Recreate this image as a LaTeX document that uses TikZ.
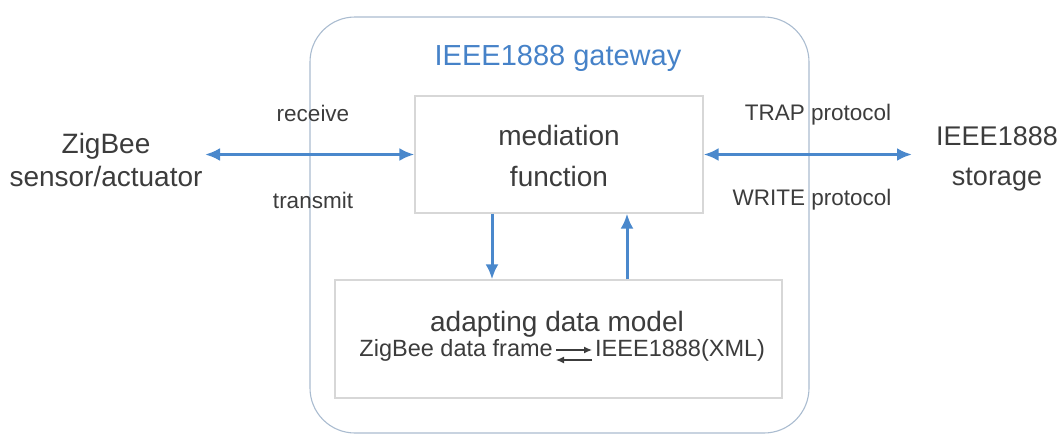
\documentclass[tikz,border=0pt]{standalone}
\usepackage{fontspec}
\setmainfont{Liberation Sans}
\usetikzlibrary{arrows.meta}

\definecolor{flowblue}{RGB}{74,136,204}
\definecolor{titleblue}{RGB}{70,130,200}
\definecolor{inkgray}{RGB}{60,60,60}
\definecolor{boxgray}{RGB}{215,215,215}
\definecolor{gateedge}{RGB}{170,188,208}

\tikzset{
  bigtext/.style={font=\fontsize{28}{33}\selectfont, text=inkgray, inner sep=0pt, align=center},
  smalltext/.style={font=\fontsize{22.5}{27}\selectfont, text=inkgray, inner sep=0pt},
  funcbox/.style={draw=boxgray, line width=1.2pt, fill=white, inner sep=0pt},
  flow/.style={draw=flowblue, line width=3pt, -{Latex[length=15pt,width=13pt]}},
  dflow/.style={draw=flowblue, line width=3pt, {Latex[length=15pt,width=13pt]}-{Latex[length=15pt,width=13pt]}},
  conv/.style={draw=inkgray, line width=1.3pt, -{Latex[length=8pt,width=7pt]}}
}

\begin{document}
\begin{tikzpicture}[x=1pt, y=-1pt]
  \useasboundingbox (0,0) rectangle (1062,437);

  % gateway enclosure
  \draw[gateedge, line width=1.1pt, rounded corners=45pt] (310,17) rectangle (809,433);
  \node[font=\fontsize{29}{34}\selectfont, text=titleblue, inner sep=0pt, anchor=base] (gwtitle) at (558,65) {IEEE1888 gateway};

  % mediation function
  \node[funcbox, minimum width=288pt, minimum height=117pt] (medbox) at (559,154.5) {};
  \node[bigtext, font=\fontsize{28}{41}\selectfont] (med) at (559,155.5) {mediation\\function};

  % adapting data model
  \node[funcbox, minimum width=447pt, minimum height=118pt] (adbox) at (558.5,339) {};
  \node[bigtext, anchor=base] (adtitle) at (557,331.7) {adapting data model};
  \node[font=\fontsize{23.5}{27}\selectfont, text=inkgray, inner sep=0pt, anchor=base east] (zdf) at (553,356) {ZigBee data frame};
  \node[font=\fontsize{23.5}{27}\selectfont, text=inkgray, inner sep=0pt, anchor=base west] (xml) at (595,356) {IEEE1888(XML)};
  \draw[conv] ([shift={(3,-6)}]zdf.base east) -- ([shift={(-3,-6)}]xml.base west);
  \draw[conv] ([shift={(-3,4)}]xml.base west) -- ([shift={(3,4)}]zdf.base east);

  % outside parties
  \node[bigtext, font=\fontsize{28}{33}\selectfont] (zig) at (106,159.5) {ZigBee\\sensor/actuator};
  \node[bigtext, font=\fontsize{27}{40}\selectfont] (sto) at (997,158.5) {IEEE1888\\storage};
  \coordinate (zigend) at (205,154.5);
  \coordinate (stoend) at (912,154.5);

  % message flows
  \draw[dflow] (zigend) -- (medbox.west);
  \draw[dflow] (medbox.east) -- (stoend);
  \draw[flow] ([xshift=-67pt]medbox.south) -- ([xshift=-67pt]medbox.south |- adbox.north);
  \draw[flow] ([xshift=68pt]medbox.south |- adbox.north) -- ([xshift=68pt]medbox.south);

  % flow labels
  \node[smalltext, anchor=base] (recv) at (313,121.7) {receive};
  \node[smalltext, anchor=base] (trans) at (313,208) {transmit};
  \node[smalltext, anchor=base] (trap) at (818,120) {TRAP protocol};
  \node[smalltext, anchor=base] (write) at (812,205) {WRITE protocol};
\end{tikzpicture}
\end{document}
